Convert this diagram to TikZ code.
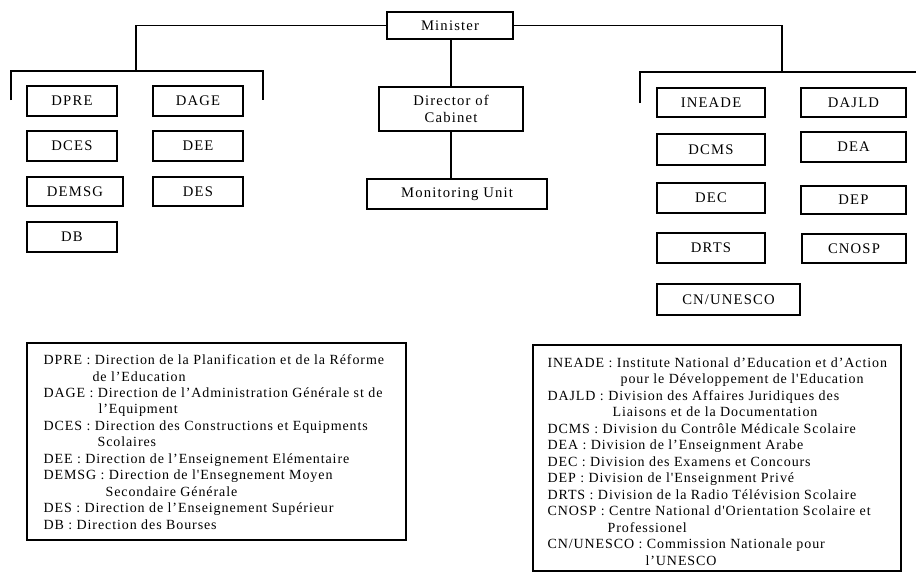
\documentclass[tikz,border=0pt]{standalone}
\usepackage{fontspec}
\setmainfont{Liberation Serif}
\newfontfamily\boxfont[LetterSpace=8]{Liberation Serif}
\newfontfamily\legfont[LetterSpace=6.5]{Liberation Serif}
\begin{document}
\begin{tikzpicture}[x=0.75pt,y=-0.75pt,line width=0.9pt,
  box/.style={draw,rectangle,inner sep=0pt,align=center,font=\boxfont\fontsize{11}{13}\selectfont},
  legbox/.style={draw,rectangle,inner sep=0pt},
  leg/.style={anchor=base west,inner sep=0pt,font=\legfont\fontsize{10.5}{12}\selectfont}]
\useasboundingbox (0,0) rectangle (916,575);
% top
\node[box,minimum width=94.5pt,minimum height=20.25pt] (minister) at (450,25.5) {Minister};
\node[box,minimum width=108pt,minimum height=33pt] (director) at (451,109) {Director of\\Cabinet};
\node[box,minimum width=135pt,minimum height=22.5pt] (monitor) at (457,194) {Monitoring Unit};
% left boxes
\node[box,minimum width=67.5pt,minimum height=22.5pt] (dpre) at (72,101) {DPRE};
\node[box,minimum width=67.5pt,minimum height=22.5pt] (dage) at (198,101) {DAGE};
\node[box,minimum width=67.5pt,minimum height=22.5pt] (dces) at (72,146) {DCES};
\node[box,minimum width=67.5pt,minimum height=22.5pt] (dee) at (198,146) {DEE};
\node[box,minimum width=72pt,minimum height=21.75pt] (demsg) at (75,191.5) {DEMSG};
\node[box,minimum width=67.5pt,minimum height=21.75pt] (des) at (198,191.5) {DES};
\node[box,minimum width=67.5pt,minimum height=22.5pt] (db) at (72,237) {DB};
% right boxes
\node[box,minimum width=81pt,minimum height=21.75pt] (ineade) at (711,102.5) {INEADE};
\node[box,minimum width=78.75pt,minimum height=21.75pt] (dajld) at (853.5,102.5) {DAJLD};
\node[box,minimum width=81pt,minimum height=23.25pt] (dcms) at (711,149.5) {DCMS};
\node[box,minimum width=78.75pt,minimum height=22.5pt] (dea) at (853.5,147) {DEA};
\node[box,minimum width=81pt,minimum height=22.5pt] (dec) at (711,198) {DEC};
\node[box,minimum width=78.75pt,minimum height=21pt] (dep) at (853.5,200) {DEP};
\node[box,minimum width=81pt,minimum height=22.5pt] (drts) at (711,248) {DRTS};
\node[box,minimum width=78pt,minimum height=21.75pt] (cnosp) at (854,248.5) {CNOSP};
\node[box,minimum width=107.25pt,minimum height=23.25pt] (cnunesco) at (728.5,299.5) {CN/UNESCO};
% connectors
\coordinate (lj) at (136,71);
\coordinate (lbl) at (11,100);
\coordinate (lbr) at (263,100);
\coordinate (rj) at (782,72);
\coordinate (rbl) at (640,103);
\coordinate (rbr) at (916,72);
\draw (minister.west) -| (lj);
\draw (lbl) |- (lj) -| (lbr);
\draw (minister.east) -| (rj);
\draw (rbl) |- (rbr);
\draw (minister.south -| director.north) -- (director.north);
\draw (director.south) -- (director.south |- monitor.north);
% legends
\node[legbox,minimum width=284.25pt,minimum height=147.75pt] (legl) at (216.5,441.5) {};
\node[legbox,minimum width=276pt,minimum height=169.5pt] (legr) at (717,458) {};
\node[leg] (l1) at (43,364) {DPRE : Direction de la Planification et de la Réforme};
\node[leg] (l2) at (92,381) {de l’Education};
\node[leg] (l3) at (43,397) {DAGE : Direction de l’Administration Générale st de};
\node[leg] (l4) at (98,413) {l’Equipment};
\node[leg] (l5) at (43,430) {DCES : Direction des Constructions et Equipments};
\node[leg] (l6) at (97,446) {Scolaires};
\node[leg] (l7) at (43,463) {DEE : Direction de l’Enseignement Elémentaire};
\node[leg] (l8) at (43,479) {DEMSG : Direction de l'Ensegnement Moyen};
\node[leg] (l9) at (105,496) {Secondaire Générale};
\node[leg] (l10) at (43,512) {DES : Direction de l’Enseignement Supérieur};
\node[leg] (l11) at (43,529) {DB : Direction des Bourses};
\node[leg] (r1) at (547,367) {INEADE : Institute National d’Education et d’Action};
\node[leg] (r2) at (620,383.5) {pour le Développement de l'Education};
\node[leg] (r3) at (547,400) {DAJLD : Division des Affaires Juridiques des};
\node[leg] (r4) at (612,416.5) {Liaisons et de la Documentation};
\node[leg] (r5) at (547,433) {DCMS : Division du Contrôle Médicale Scolaire};
\node[leg] (r6) at (547,449.5) {DEA : Division de l’Enseignment Arabe};
\node[leg] (r7) at (547,466) {DEC : Division des Examens et Concours};
\node[leg] (r8) at (547,482.5) {DEP : Division de l'Enseignment Privé};
\node[leg] (r9) at (547,499) {DRTS : Division de la Radio Télévision Scolaire};
\node[leg] (r10) at (547,515.5) {CNOSP : Centre National d'Orientation Scolaire et};
\node[leg] (r11) at (607,532) {Professionel};
\node[leg] (r12) at (547,548.5) {CN/UNESCO : Commission Nationale pour};
\node[leg] (r13) at (645,565) {l’UNESCO};
\end{tikzpicture}
\end{document}
